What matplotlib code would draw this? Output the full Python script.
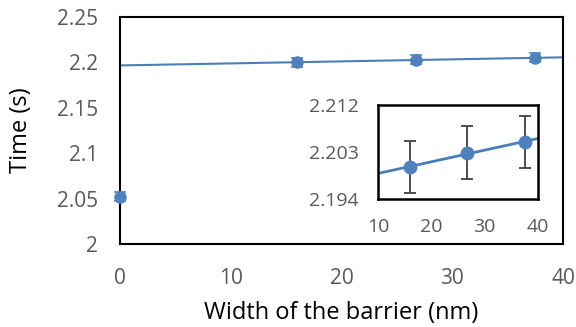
import matplotlib.pyplot as plt
import numpy as np

plt.rcParams['font.family'] = ['Open Sans', 'DejaVu Sans']

# data
width_nm = [0, 16, 26.75, 37.5]
time_s = [2.052, 2.2001, 2.2029, 2.2049]
time_err = [0.005, 0.005, 0.005, 0.005]

x_ticks = [0, 10, 20, 30, 40]
y_ticks = [2, 2.05, 2.1, 2.15, 2.2, 2.25]
y_tick_labels = ['2', '2.05', '2.1', '2.15', '2.2', '2.25']
inset_x_ticks = [10, 20, 30, 40]
inset_y_ticks = [2.194, 2.203, 2.212]

blue = '#4F81BD'
line_blue = '#4A7EBB'
grey = '#595959'

# linear trend through the points with nonzero width
slope, icpt = np.polyfit(width_nm[1:], time_s[1:], 1)
fit_x = np.array([0, 40])

fig = plt.figure(figsize=(5.76, 3.27), dpi=100)
ax = fig.add_axes([120 / 576, 1 - 244 / 327, 443 / 576, 227 / 327])

ax.plot(fit_x, icpt + slope * fit_x, color=line_blue, lw=1.5, zorder=2)
ax.errorbar(width_nm, time_s, yerr=time_err, fmt='o', color=blue, ms=8,
            ecolor=blue, elinewidth=1.2, capsize=4, capthick=1.2, zorder=3,
            clip_on=False)
ax.set_xlim(0, 40)
ax.set_ylim(2, 2.25)
ax.set_xticks(x_ticks)
ax.set_yticks(y_ticks)
ax.set_yticklabels(y_tick_labels)
ax.tick_params(length=0, labelsize=15, colors=grey)
ax.tick_params(axis='x', pad=17)
ax.tick_params(axis='y', pad=16)
for s in ax.spines.values():
    s.set_linewidth(1.5)
    s.set_color('black')
ax.set_xlabel('Width of the barrier (nm)', fontsize=17, labelpad=9)
ax.set_ylabel('Time (s)', fontsize=17, labelpad=17)

# inset zoom on the last three points
ins = fig.add_axes([378 / 576, 1 - 199 / 327, 160 / 576, 94 / 327])
ins.plot(fit_x, icpt + slope * fit_x, color=line_blue, lw=2, zorder=2)
ins.errorbar(width_nm[1:], time_s[1:], yerr=time_err[1:], fmt='o', color=blue,
             ms=9, ecolor='#404040', elinewidth=1.3, capsize=4, capthick=1.3,
             zorder=3)
ins.set_xlim(10, 40)
ins.set_ylim(2.194, 2.212)
ins.set_xticks(inset_x_ticks)
ins.set_yticks(inset_y_ticks)
ins.tick_params(length=0, labelsize=14, colors=grey)
ins.tick_params(axis='x', pad=14)
ins.tick_params(axis='y', pad=14)
for s in ins.spines.values():
    s.set_linewidth(1.8)
    s.set_color('black')

fig.savefig('out.png', dpi=100)
